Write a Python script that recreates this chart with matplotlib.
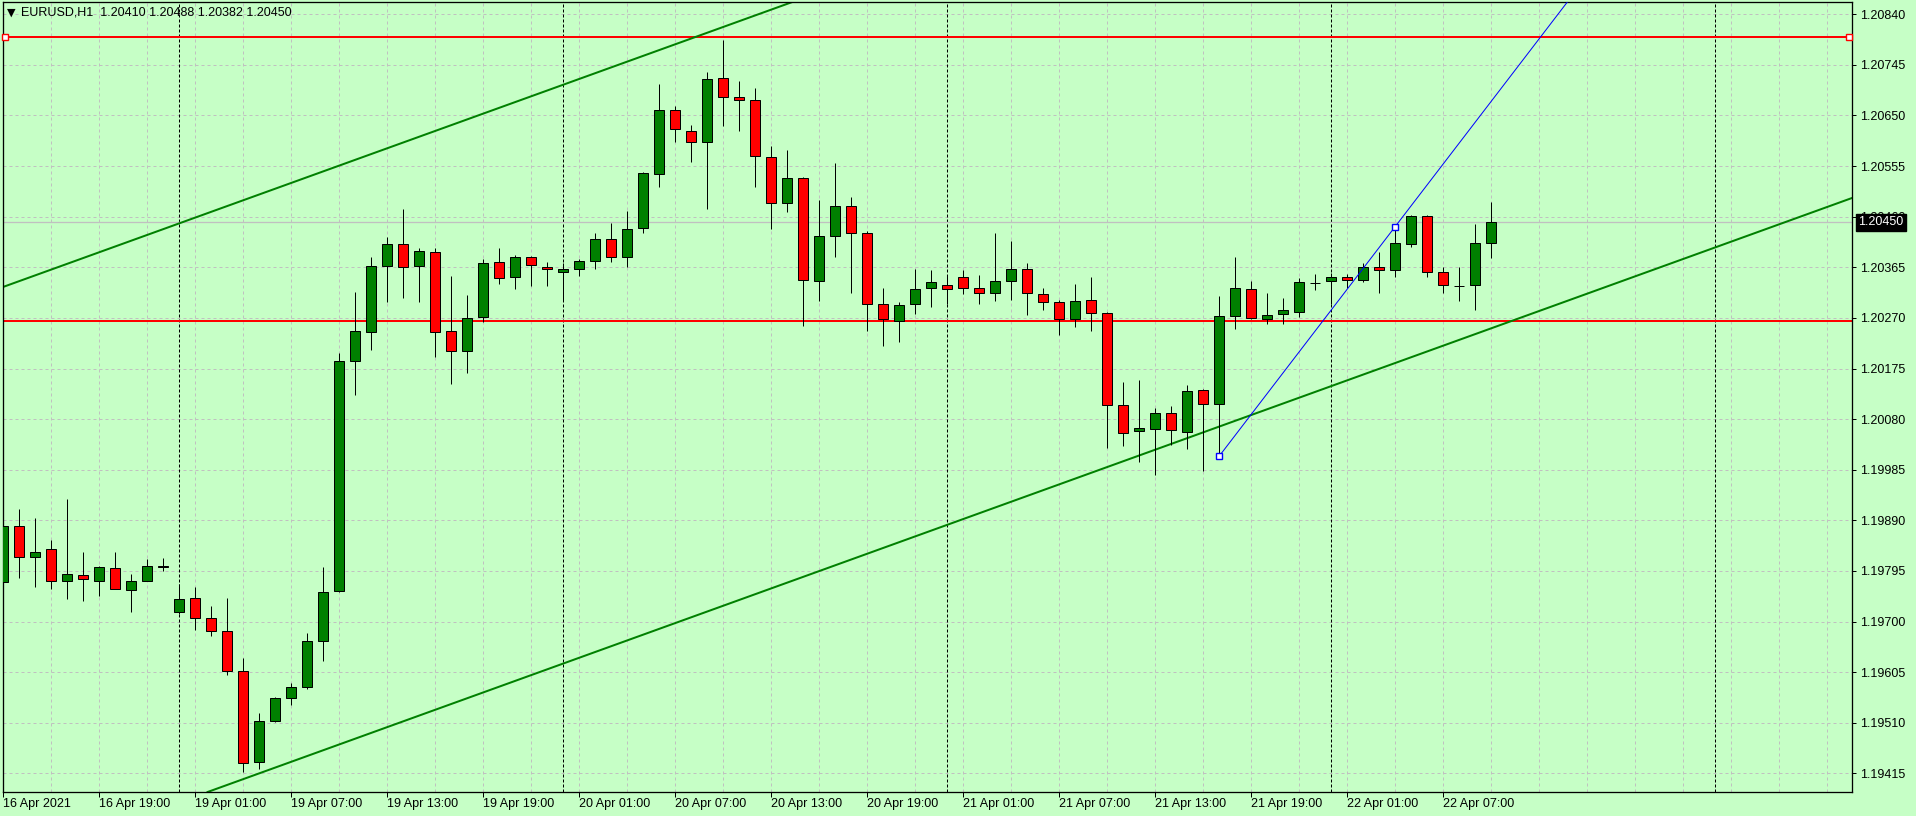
import matplotlib
matplotlib.use("Agg")
import matplotlib.pyplot as plt
import matplotlib.ticker as mticker
import matplotlib.transforms as mtransforms
import numpy as np
import pandas as pd

# MetaTrader-like colours
BG_HEX = "#C6FFC6"
BULL_HEX = "#008000"
BEAR_HEX = "#FF0000"
GRID_HEX = "#C0C0C0"
BLUE_HEX = "#0000FF"
FONT_FAMILY = ["Liberation Sans", "DejaVu Sans"]
PX = 72 / 100  # one pixel in points at dpi 100

SYMBOL = "EURUSD,H1"

# hourly bars: Friday 16 Apr afternoon, then Monday 19 Apr .. Thursday 22 Apr 10:00
times = list(pd.date_range("2021-04-16 13:00", "2021-04-16 23:00", freq="h")) + \
    list(pd.date_range("2021-04-19 00:00", "2021-04-22 10:00", freq="h"))

opens = [
    1.19774, 1.19880, 1.19821, 1.19836, 1.19777, 1.19787, 1.19777, 1.19800, 1.19760, 1.19776,
    1.19805, 1.19717, 1.19745, 1.19706, 1.19682, 1.19608, 1.19436, 1.19514, 1.19556, 1.19578,
    1.19663, 1.19757, 1.20190, 1.20243, 1.20368, 1.20408, 1.20367, 1.20393, 1.20245, 1.20207,
    1.20271, 1.20374, 1.20346, 1.20384, 1.20365, 1.20357, 1.20361, 1.20376, 1.20418, 1.20384,
    1.20438, 1.20540, 1.20660, 1.20620, 1.20600, 1.20720, 1.20684, 1.20679, 1.20572, 1.20485,
    1.20532, 1.20339, 1.20423, 1.20480, 1.20429, 1.20296, 1.20265, 1.20296, 1.20326, 1.20331,
    1.20346, 1.20327, 1.20316, 1.20339, 1.20361, 1.20314, 1.20299, 1.20267, 1.20303, 1.20280,
    1.20106, 1.20057, 1.20061, 1.20091, 1.20055, 1.20134, 1.20108, 1.20273, 1.20324, 1.20267,
    1.20277, 1.20282, 1.20336, 1.20339, 1.20346, 1.20341, 1.20365, 1.20359, 1.20408, 1.20461,
    1.20356, 1.20330, 1.20331, 1.20410,
]
highs = [
    1.19943, 1.19911, 1.19894, 1.19853, 1.19930, 1.19831, 1.19804, 1.19831, 1.19789, 1.19817,
    1.19819, 1.19770, 1.19765, 1.19729, 1.19744, 1.19631, 1.19528, 1.19558, 1.19584, 1.19678,
    1.19802, 1.20204, 1.20319, 1.20384, 1.20422, 1.20474, 1.20401, 1.20401, 1.20349, 1.20313,
    1.20380, 1.20401, 1.20389, 1.20386, 1.20374, 1.20373, 1.20380, 1.20429, 1.20448, 1.20470,
    1.20543, 1.20710, 1.20667, 1.20633, 1.20731, 1.20791, 1.20714, 1.20701, 1.20592, 1.20585,
    1.20534, 1.20491, 1.20560, 1.20497, 1.20434, 1.20327, 1.20299, 1.20362, 1.20359, 1.20348,
    1.20359, 1.20350, 1.20429, 1.20414, 1.20373, 1.20327, 1.20303, 1.20333, 1.20346, 1.20282,
    1.20150, 1.20153, 1.20100, 1.20104, 1.20144, 1.20136, 1.20312, 1.20384, 1.20339, 1.20316,
    1.20307, 1.20344, 1.20352, 1.20354, 1.20352, 1.20373, 1.20393, 1.20438, 1.20463, 1.20463,
    1.20365, 1.20365, 1.20446, 1.20488,
]
lows = [
    1.19755, 1.19782, 1.19765, 1.19762, 1.19743, 1.19739, 1.19748, 1.19762, 1.19717, 1.19776,
    1.19795, 1.19715, 1.19685, 1.19673, 1.19600, 1.19417, 1.19424, 1.19512, 1.19544, 1.19573,
    1.19625, 1.19755, 1.20126, 1.20210, 1.20300, 1.20308, 1.20300, 1.20197, 1.20145, 1.20167,
    1.20263, 1.20333, 1.20324, 1.20329, 1.20329, 1.20302, 1.20348, 1.20361, 1.20374, 1.20365,
    1.20429, 1.20515, 1.20601, 1.20563, 1.20475, 1.20631, 1.20620, 1.20516, 1.20436, 1.20468,
    1.20255, 1.20302, 1.20385, 1.20317, 1.20246, 1.20217, 1.20225, 1.20278, 1.20291, 1.20296,
    1.20314, 1.20297, 1.20302, 1.20304, 1.20276, 1.20285, 1.20237, 1.20252, 1.20246, 1.20025,
    1.20030, 1.20000, 1.19976, 1.20031, 1.20024, 1.19983, 1.20006, 1.20249, 1.20267, 1.20258,
    1.20258, 1.20271, 1.20322, 1.20296, 1.20326, 1.20337, 1.20316, 1.20346, 1.20404, 1.20346,
    1.20316, 1.20301, 1.20284, 1.20382,
]
closes = [
    1.19880, 1.19821, 1.19830, 1.19776, 1.19789, 1.19779, 1.19802, 1.19762, 1.19777, 1.19805,
    1.19802, 1.19742, 1.19706, 1.19683, 1.19607, 1.19434, 1.19514, 1.19556, 1.19578, 1.19663,
    1.19755, 1.20190, 1.20245, 1.20367, 1.20408, 1.20365, 1.20395, 1.20243, 1.20207, 1.20269,
    1.20373, 1.20344, 1.20384, 1.20369, 1.20361, 1.20361, 1.20376, 1.20418, 1.20384, 1.20436,
    1.20542, 1.20660, 1.20624, 1.20600, 1.20718, 1.20684, 1.20679, 1.20573, 1.20485, 1.20532,
    1.20341, 1.20423, 1.20480, 1.20429, 1.20296, 1.20267, 1.20294, 1.20324, 1.20337, 1.20324,
    1.20326, 1.20316, 1.20339, 1.20361, 1.20316, 1.20299, 1.20267, 1.20301, 1.20280, 1.20106,
    1.20053, 1.20063, 1.20091, 1.20059, 1.20132, 1.20108, 1.20273, 1.20326, 1.20269, 1.20275,
    1.20284, 1.20337, 1.20336, 1.20346, 1.20341, 1.20365, 1.20359, 1.20410, 1.20461, 1.20357,
    1.20331, 1.20330, 1.20410, 1.20450,
]

# price axis ticks
price_ticks = [1.19415, 1.19510, 1.19605, 1.19700, 1.19795, 1.19890, 1.19985, 1.20080,
               1.20175, 1.20270, 1.20365, 1.20460, 1.20555, 1.20650, 1.20745, 1.20840]

# drawn objects
red_levels = [1.20798, 1.20265]
bid_price = 1.20450
channel_lower = [(15, 1.19404), (75, 1.20055)]
channel_upper = [(0, 1.20328), (45, 1.20816)]
blue_ray = [(76, 1.20010), (87, 1.20441)]

Y_MIN, Y_MAX = 1.19380, 1.20863
X_MIN, X_MAX = -0.03, 115.56
W, H = 1916, 816

plt.rcParams["font.family"] = FONT_FAMILY
plt.rcParams["font.size"] = 9

fig = plt.figure(figsize=(W / 100, H / 100), dpi=100, facecolor=BG_HEX)
ax = fig.add_axes([2.5 / W, 24 / H, 1849.5 / W, 790 / H])
ax.set_facecolor(BG_HEX)
ax.set_xlim(X_MIN, X_MAX)
ax.set_ylim(Y_MIN, Y_MAX)

n = len(opens)
x = np.arange(n)
o = np.array(opens)
h = np.array(highs)
lo = np.array(lows)
c = np.array(closes)

# grid: every 3 bars, every price tick
for gx in range(0, int(X_MAX) + 1, 3):
    ax.axvline(gx, color=GRID_HEX, lw=PX, ls=(0, (3, 3)), zorder=0)
for gy in price_ticks:
    ax.axhline(gy, color=GRID_HEX, lw=PX, ls=(0, (3, 3)), zorder=0)

# day separators
midnights = [i for i, t in enumerate(times) if t.hour == 0]
midnights.append(midnights[-1] + 24)
for m in midnights:
    ax.axvline(m, color="black", lw=PX, ls=(0, (3, 2)), zorder=1)

# bid line
ax.axhline(bid_price, color=GRID_HEX, lw=1.3 * PX, zorder=1)

# horizontal levels
for lvl in red_levels:
    ax.axhline(lvl, color=BEAR_HEX, lw=2 * PX, zorder=2)
blend = mtransforms.blended_transform_factory(ax.transAxes, ax.transData)
ax.plot([0.0014, 0.9985], [red_levels[0]] * 2, transform=blend, ls="none",
        marker="s", ms=4, mfc="white", mec=BEAR_HEX, mew=1, zorder=6, clip_on=False)

# channel
ax.axline(channel_lower[0], channel_lower[1], color=BULL_HEX, lw=2 * PX, zorder=2)
ax.axline(channel_upper[0], channel_upper[1], color=BULL_HEX, lw=2 * PX, zorder=2)

# candles
up = c >= o
ax.vlines(x, lo, h, color="black", lw=PX, zorder=3)
ax.bar(x, np.abs(c - o), bottom=np.minimum(o, c), width=0.64,
       color=np.where(up, BULL_HEX, BEAR_HEX), edgecolor="black",
       linewidth=PX, zorder=4)

# blue trend ray
(bx0, by0), (bx1, by1) = blue_ray
slope = (by1 - by0) / (bx1 - bx0)
bx_end = X_MAX + 5
ax.plot([bx0, bx_end], [by0, by0 + slope * (bx_end - bx0)], color=BLUE_HEX,
        lw=PX, zorder=5)
ax.plot([bx0, bx1], [by0, by1], ls="none", marker="s", ms=4, mfc="white",
        mec=BLUE_HEX, mew=1, zorder=6)

# axes
for side in ["top", "bottom", "left", "right"]:
    ax.spines[side].set_linewidth(1.3 * PX)
    ax.spines[side].set_color("black")

ax.yaxis.tick_right()
ax.set_yticks(price_ticks)
ax.yaxis.set_major_formatter(mticker.FormatStrFormatter("%.5f"))
ax.tick_params(axis="y", direction="out", length=4 * PX, width=PX, pad=3, labelsize=9)

label_idx = list(range(0, n, 6))
labels = []
for i in label_idx:
    t = times[i]
    labels.append(t.strftime("%d %b %Y") if i == 0 else t.strftime("%d %b %H:%M"))
ax.set_xticks(label_idx)
ax.set_xticklabels(labels)
ax.tick_params(axis="x", direction="out", length=5 * PX, width=PX, pad=1, labelsize=9)
for lab in ax.get_xticklabels():
    lab.set_horizontalalignment("left")

# current price tag
ax.annotate(f"{bid_price:.5f}", xy=(1, bid_price), xycoords=blend,
            xytext=(6 * PX, 0), textcoords="offset points",
            ha="left", va="center", color="white", fontsize=9,
            bbox=dict(boxstyle="square,pad=0.2", facecolor="black", edgecolor="black"),
            zorder=10, annotation_clip=False)

# symbol header
fig.text(7 / W, 1 - 12.7 / H, "\u25BC", fontsize=8, va="center", ha="left",
         family=["DejaVu Sans"])
fig.text(21 / W, 1 - 12.7 / H,
         f"{SYMBOL}  {opens[-1]:.5f} {highs[-1]:.5f} {lows[-1]:.5f} {closes[-1]:.5f}",
         fontsize=9, va="center", ha="left")

fig.savefig("out.png", dpi=100, facecolor=BG_HEX)
